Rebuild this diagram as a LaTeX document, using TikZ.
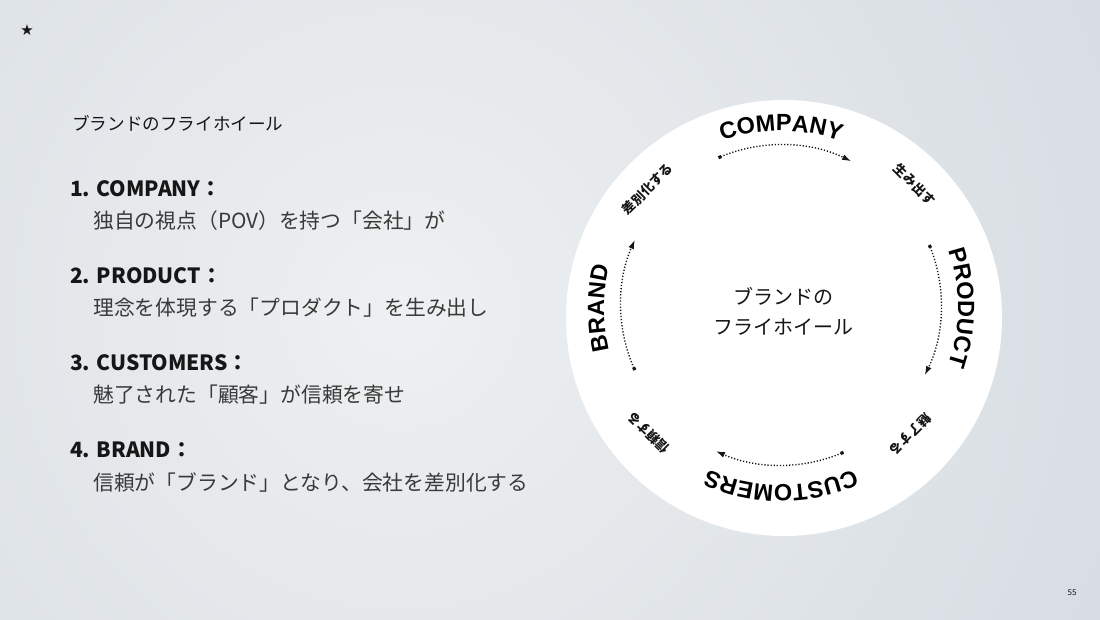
\documentclass[tikz,border=0pt]{standalone}
\usepackage{fontspec}
\setmainfont{Noto Sans CJK JP}
\newfontfamily\jpfont{Noto Sans CJK JP}
\newfontfamily\wheelfont{Liberation Sans}
\newfontfamily\symfont{DejaVu Sans}
\usetikzlibrary{positioning, arrows.meta, decorations.text}
\definecolor{bgin}{HTML}{EEF0F1}
\definecolor{bgout}{HTML}{C8D1DA}
\definecolor{ink}{HTML}{161616}
\tikzset{
  title1/.style = {
    anchor = west,
    inner sep = 0pt,
    text = ink,
    font = \jpfont\fontsize{17.6}{20}\selectfont,
  },
  head1/.style = {
    anchor = west,
    inner sep = 0pt,
    text = ink,
    font = \jpfont\bfseries\fontsize{21}{25}\selectfont,
  },
  desc1/.style = {
    anchor = west,
    inner sep = 0pt,
    text = ink!85!white,
    font = \jpfont\fontsize{20.8}{25}\selectfont,
  },
  small1/.style = {
    inner sep = 0pt,
    text = ink,
    font = \jpfont\bfseries\fontsize{13}{15}\selectfont,
  },
  arrow1/.style = {
    draw = ink, line width = 1.4pt, dash pattern = on 1.2pt off 1.9pt,
    {Square[length = 3pt, width = 3.2pt]}-{Latex[length = 9pt, width = 6pt]},
  },
  ring1/.style = {
    decorate,
    decoration = {text along path, text align = center,
      text = {|\wheelfont\bfseries\fontsize{23.5}{23.5}\selectfont|#1}},
  }
}

\begin{document}
\begin{tikzpicture}[x = 1pt, y = 1pt]
    \useasboundingbox (0,0) rectangle (1100,620);
    % background
    \begin{scope}
        \clip (0,0) rectangle (1100,620);
        \shade[inner color = bgin, outer color = bgout] (400,310) circle (1250pt);
    \end{scope}
    \node[font = \symfont\fontsize{15}{15}\selectfont, text = ink] (star) at (27,590) {★};
    \node[font = \jpfont\fontsize{8}{8}\selectfont, text = ink] (page) at (1072,27) {55};

    % left list
    \node[title1](t) at (72,497){ブランドのフライホイール};
    \node[head1](h1) at (70,431){1. COMPANY：};
    \node[desc1, below = 32pt of h1.west, anchor = west, xshift = 23pt](d1){独自の視点（POV）を持つ「会社」が};
    \node[head1, below = 87pt of h1.west, anchor = west](h2){2. PRODUCT：};
    \node[desc1, below = 32pt of h2.west, anchor = west, xshift = 23pt](d2){理念を体現する「プロダクト」を生み出し};
    \node[head1, below = 87pt of h2.west, anchor = west](h3){3. CUSTOMERS：};
    \node[desc1, below = 32pt of h3.west, anchor = west, xshift = 23pt](d3){魅了された「顧客」が信頼を寄せ};
    \node[head1, below = 87pt of h3.west, anchor = west](h4){4. BRAND：};
    \node[desc1, below = 32pt of h4.west, anchor = west, xshift = 23pt](d4){信頼が「ブランド」となり、会社を差別化する};

    % wheel
    \fill[white] (784,302) circle (218pt);
    \coordinate (ctr) at (781,315);
    \coordinate (rim) at (781,312);
    \node[align = center, inner sep = 0pt, text = ink, font = \jpfont\fontsize{20}{30}\selectfont](hub) at (783,309){ブランドの\\フライホイール};

    \path[ring1 = COMPANY] ([shift = {(125:177pt)}]rim) arc[start angle = 125, end angle = 55, radius = 177pt];
    \path[ring1 = PRODUCT] ([shift = {(35:177pt)}]rim) arc[start angle = 35, end angle = -35, radius = 177pt];
    \path[ring1 = CUSTOMERS] ([shift = {(-52:177pt)}]rim) arc[start angle = -52, end angle = -128, radius = 177pt];
    \path[ring1 = BRAND] ([shift = {(215:177pt)}]rim) arc[start angle = 215, end angle = 145, radius = 177pt];

    \node[small1, rotate = -45](s1) at ([shift = {(42:180pt)}]ctr){生み出す};
    \node[small1, rotate = -135](s2) at ([shift = {(-45:183pt)}]ctr){魅了する};
    \node[small1, rotate = 135](s3) at ([shift = {(-136:184pt)}]ctr){信頼する};
    \node[small1, rotate = 45](s4) at ([shift = {(139:177pt)}]ctr){差別化する};

    \coordinate (a1) at ([shift = {(113:160pt)}]ctr);
    \coordinate (a2) at ([shift = {(22:160pt)}]ctr);
    \coordinate (a3) at ([shift = {(-67:160pt)}]ctr);
    \coordinate (a4) at ([shift = {(204:160pt)}]ctr);
    \draw[arrow1](a1) arc[start angle = 113, end angle = 64, radius = 160pt];
    \draw[arrow1](a2) arc[start angle = 22, end angle = -26, radius = 160pt];
    \draw[arrow1](a3) arc[start angle = -67, end angle = -114, radius = 160pt];
    \draw[arrow1](a4) arc[start angle = 204, end angle = 156, radius = 160pt];
\end{tikzpicture}
\end{document}
